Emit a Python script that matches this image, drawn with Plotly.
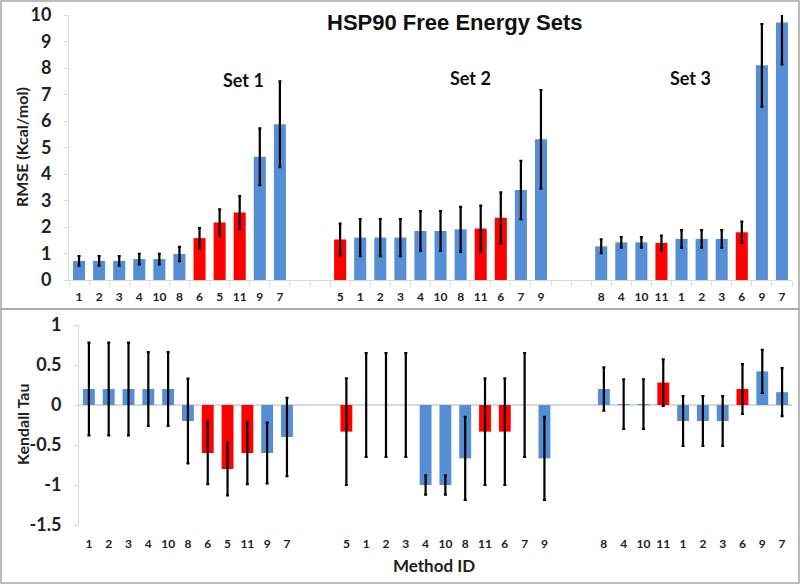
import plotly.graph_objects as go

# ---------------- data ----------------
set_names = ["Set 1", "Set 2", "Set 3"]

set1_ids = ["1", "2", "3", "4", "10", "8", "6", "5", "11", "9", "7"]
set1_rmse = [0.72, 0.72, 0.72, 0.79, 0.79, 0.98, 1.58, 2.17, 2.55, 4.65, 5.88]
set1_rmse_err = [0.18, 0.18, 0.18, 0.20, 0.20, 0.27, 0.38, 0.50, 0.62, 1.07, 1.62]
set1_tau = [0.2, 0.2, 0.2, 0.2, 0.2, -0.2, -0.6, -0.8, -0.6, -0.6, -0.4]
set1_tau_err = [0.58, 0.58, 0.58, 0.46, 0.46, 0.53, 0.39, 0.33, 0.39, 0.38, 0.49]
set1_red = ["6", "5", "11"]

set2_ids = ["5", "1", "2", "3", "4", "10", "8", "11", "6", "7", "9"]
set2_rmse = [1.53, 1.60, 1.60, 1.60, 1.85, 1.85, 1.91, 1.94, 2.35, 3.40, 5.31]
set2_rmse_err = [0.60, 0.70, 0.70, 0.70, 0.75, 0.75, 0.85, 0.87, 0.96, 1.10, 1.86]
set2_tau = [-0.333, 0.0, 0.0, 0.0, -1.0, -1.0, -0.667, -0.333, -0.333, 0.0, -0.667]
set2_tau_err = [0.667, 0.65, 0.65, 0.65, 0.12, 0.12, 0.52, 0.667, 0.667, 0.65, 0.52]
set2_red = ["5", "11", "6"]

set3_ids = ["8", "4", "10", "11", "1", "2", "3", "6", "9", "7"]
set3_rmse = [1.27, 1.42, 1.42, 1.40, 1.55, 1.55, 1.55, 1.80, 8.10, 9.72]
set3_rmse_err = [0.26, 0.20, 0.20, 0.28, 0.33, 0.33, 0.33, 0.40, 1.56, 1.58]
set3_tau = [0.2, 0.012, 0.012, 0.28, -0.2, -0.2, -0.2, 0.2, 0.42, 0.16]
set3_tau_err = [0.27, 0.31, 0.31, 0.29, 0.31, 0.31, 0.31, 0.31, 0.27, 0.30]
set3_red = ["11", "6"]

rmse_ticks = [0, 1, 2, 3, 4, 5, 6, 7, 8, 9, 10]
tau_ticks = [-1.5, -1, -0.5, 0, 0.5, 1]
tau_ticklabels = ["-1.5", "-1", "-0.5", "0", "0.5", "1"]

BLUE = "#558ED5"
RED = "#FF0000"
GAP = 2

# ---------------- assemble ----------------
sets = [
    (set1_ids, set1_rmse, set1_rmse_err, set1_tau, set1_tau_err, set1_red),
    (set2_ids, set2_rmse, set2_rmse_err, set2_tau, set2_tau_err, set2_red),
    (set3_ids, set3_rmse, set3_rmse_err, set3_tau, set3_tau_err, set3_red),
]
xs, labels, rmse, rmse_err, tau, tau_err, colors = [], [], [], [], [], [], []
pos = 0
for ids, r, re, t, te, red in sets:
    for i, mid in enumerate(ids):
        xs.append(pos)
        labels.append(mid)
        rmse.append(r[i]); rmse_err.append(re[i])
        tau.append(t[i]); tau_err.append(te[i])
        colors.append(RED if mid in red else BLUE)
        pos += 1
    pos += GAP
n_slots = pos - GAP
boundaries = [b - 0.5 for b in range(n_slots + 1)]

W, H = 800, 584
def py(p):  # pixel y -> paper y
    return 1 - p / H

fig = go.Figure()
err_style = dict(type="data", thickness=2.2, width=1.5, color="black")
fig.add_trace(go.Bar(x=xs, y=rmse, marker=dict(color=colors, line=dict(width=0)),
                     error_y=dict(array=rmse_err, **err_style),
                     xaxis="x", yaxis="y", showlegend=False, hoverinfo="skip"))
fig.add_trace(go.Bar(x=xs, y=tau, marker=dict(color=colors, line=dict(width=0)),
                     error_y=dict(array=tau_err, **err_style),
                     xaxis="x2", yaxis="y2", showlegend=False, hoverinfo="skip"))

tickfont = dict(family="Lato, Open Sans, sans-serif", size=12, color="#222222", weight="bold")
ytickfont = dict(family="Lato, Open Sans, sans-serif", size=18, color="#222222", weight="bold")
axis_grey = "#D9D9D9"

fig.update_layout(
    width=W, height=H,
    margin=dict(l=0, r=0, t=0, b=0),
    paper_bgcolor="white", plot_bgcolor="white",
    bargap=0.4,
    xaxis=dict(domain=[69 / W, 792 / W], range=[-0.5, n_slots - 0.5],
               tickmode="array", tickvals=xs, ticktext=labels, ticks="",
               tickfont=tickfont, showline=True, linecolor=axis_grey, linewidth=1,
               showgrid=False, zeroline=False, automargin=False, anchor="y",
               ticklabelstandoff=6,
               minor=dict(tickmode="array", tickvals=boundaries, ticks="outside",
                          ticklen=5, tickcolor=axis_grey, showgrid=False)),
    yaxis=dict(domain=[py(280), py(15)], range=[0, 10], tickvals=rmse_ticks,
               tickfont=ytickfont, showline=True, linecolor=axis_grey, linewidth=1,
               showgrid=False, zeroline=False, automargin=False, anchor="x",
               ticks="outside", ticklen=4, tickcolor=axis_grey, ticklabelstandoff=9),
    xaxis2=dict(domain=[79 / W, 792 / W], range=[-0.5, n_slots - 0.5],
                tickmode="array", tickvals=xs, ticktext=labels, ticks="",
                tickfont=tickfont, showline=False, showgrid=False, zeroline=False,
                automargin=False, anchor="y2", ticklabelstandoff=10),
    yaxis2=dict(domain=[py(525), py(325)], range=[-1.5, 1], tickvals=tau_ticks,
                ticktext=tau_ticklabels, tickfont=ytickfont, showline=True,
                linecolor=axis_grey, linewidth=1, showgrid=False, zeroline=True,
                zerolinecolor=axis_grey, zerolinewidth=1.5, automargin=False,
                anchor="x2", ticks="outside", ticklen=4, tickcolor=axis_grey,
                ticklabelstandoff=9),
)

label_font = dict(family="Lato, Open Sans, sans-serif", size=16, color="#222222", weight="bold")
annotations = [
    dict(text="HSP90 Free Energy Sets", x=455 / W, y=py(22), xref="paper", yref="paper",
         showarrow=False, xanchor="center", yanchor="middle",
         font=dict(family="Liberation Sans, Arial, sans-serif", size=22, color="#111111", weight="bold")),
    dict(text="RMSE (Kcal/mol)", x=22 / W, y=py(147), xref="paper", yref="paper",
         showarrow=False, textangle=-90, xanchor="center", yanchor="middle", font=label_font),
    dict(text="Kendall Tau", x=22 / W, y=py(425), xref="paper", yref="paper",
         showarrow=False, textangle=-90, xanchor="center", yanchor="middle", font=label_font),
    dict(text="Method ID", x=434 / W, y=py(565), xref="paper", yref="paper",
         showarrow=False, xanchor="center", yanchor="middle",
         font=dict(family="Lato, Open Sans, sans-serif", size=17, color="#222222", weight="bold")),
]
set_label_x = [243 / W, 470 / W, 690 / W]
set_label_y = [80, 78, 78]
for name, lx, ly in zip(set_names, set_label_x, set_label_y):
    annotations.append(dict(text=name, x=lx, y=py(ly), xref="paper", yref="paper",
                            showarrow=False, xanchor="center", yanchor="middle",
                            font=dict(family="Lato, Open Sans, sans-serif", size=18,
                                      color="#111111", weight="bold")))
fig.update_layout(annotations=annotations)

border = "#A6A6A6"
fig.update_layout(shapes=[
    dict(type="rect", xref="paper", yref="paper", x0=1 / W, x1=799 / W, y0=py(309), y1=py(1),
         line=dict(color=border, width=1.5)),
    dict(type="rect", xref="paper", yref="paper", x0=1 / W, x1=799 / W, y0=py(583), y1=py(309),
         line=dict(color=border, width=1.5)),
])

fig.write_html("out.html", config={"displayModeBar": False},
               post_script="document.body.style.margin='0';document.body.style.padding='0';")
